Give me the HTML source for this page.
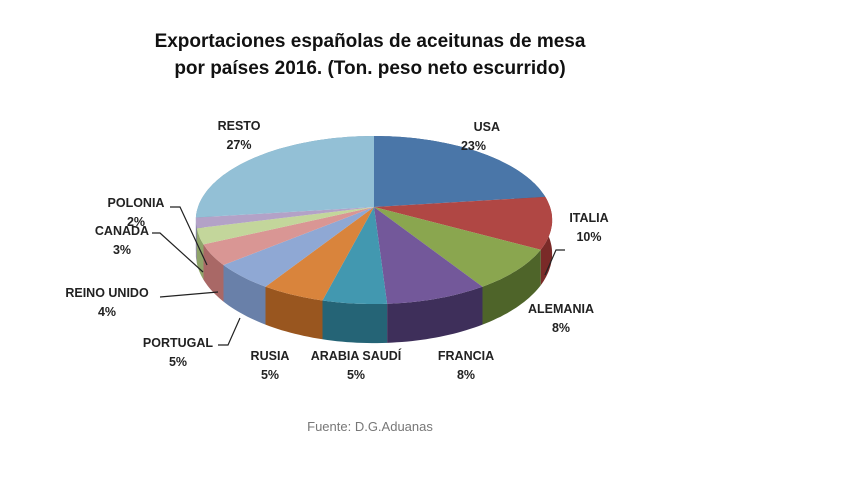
<!DOCTYPE html>
<html><head><meta charset="utf-8"><style>
body{margin:0;background:#fff;width:847px;height:473px;overflow:hidden;font-family:"Liberation Sans",sans-serif}
</style></head><body>
<svg width="847" height="473">
<text x="370" y="47" text-anchor="middle" font-size="19" font-weight="bold" fill="#111">Exportaciones españolas de aceitunas de mesa</text>
<text x="370" y="74" text-anchor="middle" font-size="19" font-weight="bold" fill="#111">por países 2016. (Ton. peso neto escurrido)</text>
<g id="sides"></g><g id="tops"></g><g id="labels" font-size="12.5" font-weight="bold" fill="#222"></g>
<g stroke="#222" stroke-width="1.2" fill="none">
<polyline points="170,207 180,207 207,265"/>
<polyline points="152,233 160,233 203,272"/>
<polyline points="160,297 218,292"/>
<polyline points="218,345 228,345 240,318"/>
<polyline points="565,250 556,250 545,275"/>
</g>
<text x="370" y="431" text-anchor="middle" font-size="13" fill="#777">Fuente: D.G.Aduanas</text>
</svg>
<script>
const categories=["USA","ITALIA","ALEMANIA","FRANCIA","ARABIA SAUDÍ","RUSIA","PORTUGAL","REINO UNIDO","CANADA","POLONIA","RESTO"];
const values=[23,10,8,8,5,5,5,4,3,2,27];
const colors=["#4a76a8","#b04744","#8aa64f","#73589a","#4298b0","#d9843c","#8fa8d4","#d99694","#c3d69b","#b3a2c7","#93c0d6"];
const sideColors=["#2f5580","#7a2a28","#4e6429","#3e2f5a","#256476","#99561f","#6980a9","#a96866","#8fa46a","#8272a0","#6a97ad"];
const labelPos=[[500,131,"end"],[589,222,"middle"],[561,313,"middle"],[466,360,"middle"],[356,360,"middle"],[270,360,"middle"],[178,347,"middle"],[107,297,"middle"],[122,235,"middle"],[136,207,"middle"],[239,130,"middle"]];
const cx=374,cy=207,R=176,R2=82,k=0.155,D=33;
const ns="http://www.w3.org/2000/svg";
function pt(t,down){const X=Math.sin(t),Z=Math.cos(t),w=1/(1+k*Z);return [cx+R*X*w,cy-R2*Z*w+(down?D*w:0)];}
function arc(a0,a1,down,rev){let s="";const n=Math.max(4,Math.ceil((a1-a0)*40));for(let i=0;i<=n;i++){const t=rev?a1-(a1-a0)*i/n:a0+(a1-a0)*i/n;const p=pt(t,down);s+=(s?"L":"M")+p[0].toFixed(1)+","+p[1].toFixed(1);}return s;}
const total=values.reduce((a,b)=>a+b,0);
let acc=0;const sides=document.getElementById("sides"),tops=document.getElementById("tops"),labels=document.getElementById("labels");
const sideList=[];
values.forEach((v,i)=>{
 const a0=acc/total*2*Math.PI;acc+=v;const a1=acc/total*2*Math.PI;
 const p=document.createElementNS(ns,"path");
 p.setAttribute("d",arc(a0,a1,false,false)+arc(a0,a1,true,true).replace("M","L")+"Z");
 p.setAttribute("fill",sideColors[i]);
 
 
 sideList.push([-Math.cos((a0+a1)/2),p]);
 const t=document.createElementNS(ns,"path");
 t.setAttribute("d","M"+cx+","+cy+arc(a0,a1,false,false).replace("M","L")+"Z");
 t.setAttribute("fill",colors[i]);
 
 
 tops.appendChild(t);
 const lp=labelPos[i];
 const tx=document.createElementNS(ns,"text");
 tx.setAttribute("x",lp[0]);tx.setAttribute("y",lp[1]);tx.setAttribute("text-anchor",lp[2]);
 
 
 const t1=document.createElementNS(ns,"tspan");t1.textContent=categories[i];t1.setAttribute("x",lp[0]);
 const t2=document.createElementNS(ns,"tspan");t2.textContent=v+"%";t2.setAttribute("x",lp[2]=="end"?lp[0]-14:lp[0]);t2.setAttribute("dy","19");
 tx.appendChild(t1);tx.appendChild(t2);labels.appendChild(tx);
});
sideList.sort((a,b)=>a[0]-b[0]).forEach(s=>sides.appendChild(s[1]));
</script>
</body></html>
